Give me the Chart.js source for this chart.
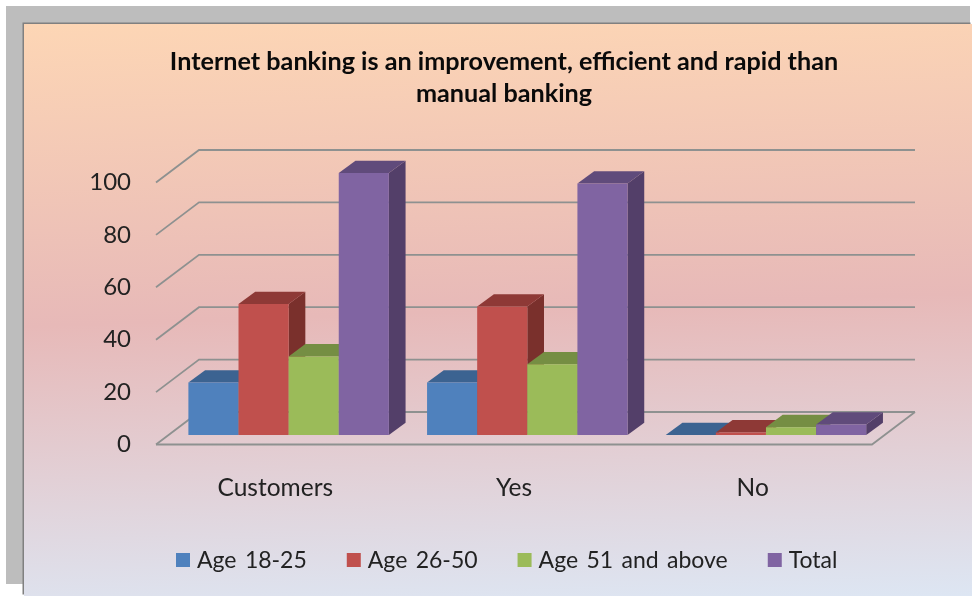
<!DOCTYPE html>
<html>
<head>
<meta charset="utf-8">
<title>Internet banking</title>
<script src="https://cdn.jsdelivr.net/npm/chart.js@4"></script>
<style>
    html, body { margin: 0; padding: 0; background: #fff; overflow: hidden; }
    #frame { position: absolute; left: 6px; top: 6px; width: 964px; height: 578px; background: #bdbdbd; }
    #panel {
        position: absolute; left: 24px; top: 24px; width: 948px; height: 572px;
        background: linear-gradient(178deg, #fdd6b5 0%, #e7b9b8 50%, #dde6f3 100%);
        box-shadow: -1.5px -1.5px 0 #808080;
    }
    #myChart { position: absolute; left: 36px; top: 0; }
</style>
</head>
<body>
<div id="frame"></div>
<div id="panel"></div>
<canvas id="myChart" width="936" height="596"></canvas>
<script>
const categories = ['Customers', 'Yes', 'No'];
const seriesNames = ['Age 18-25', 'Age 26-50', 'Age 51 and above', 'Total'];
const age18to25 = [20, 20, 0];
const age26to50 = [50, 49, 1];
const age51up = [30, 27, 3];
const total = [100, 96, 4];
const tickStep = 20;
const maxValue = 100;

const frontColors = ['#4f81bd', '#c0504d', '#9bbb59', '#8064a2'];
const topColors = ['#3c6391', '#8e3936', '#758e43', '#604b7b'];
const sideColors = ['#335580', '#7a302c', '#66793a', '#533f69'];

const FONT = 'Lato, sans-serif';
const TEXT = '#222222';

// floor depth, and where the bars stand on the floor
const floorDx = 43, floorDy = -32.5;
const barShiftX = 13.3, barShiftY = -9.5;
const barDx = 16.7, barDy = -12.3;

function face(ctx, color, x1, y1, x2, y2, dx, dy) {
    ctx.fillStyle = color;
    ctx.beginPath();
    ctx.moveTo(x1, y1);
    ctx.lineTo(x2, y2);
    ctx.lineTo(x2 + dx, y2 + dy);
    ctx.lineTo(x1 + dx, y1 + dy);
    ctx.closePath();
    ctx.fill();
}

function drawWalls(chart) {
    const ctx = chart.ctx;
    const area = chart.chartArea;
    const y = chart.scales.y;
    ctx.save();
    ctx.strokeStyle = '#8e9190';
    ctx.lineWidth = 1.8;
    for (let v = 0; v <= maxValue; v += tickStep) {
        const py = y.getPixelForValue(v);
        ctx.beginPath();
        ctx.moveTo(area.left, py);
        ctx.lineTo(area.left + floorDx, py + floorDy);
        ctx.lineTo(area.right + floorDx, py + floorDy);
        ctx.stroke();
    }
    const base = y.getPixelForValue(0);
    ctx.beginPath();
    ctx.moveTo(area.left, base);
    ctx.lineTo(area.right, base);
    ctx.lineTo(area.right + floorDx, base + floorDy);
    ctx.stroke();
    ctx.restore();
}

function drawBars(chart) {
    const ctx = chart.ctx;
    ctx.save();
    ctx.translate(barShiftX, barShiftY);
    chart.data.datasets.forEach(function(ds, i) {
        chart.getDatasetMeta(i).data.forEach(function(bar) {
            const left = bar.x - bar.width / 2;
            const right = bar.x + bar.width / 2;
            face(ctx, sideColors[i], right, bar.base, right, bar.y, barDx, barDy);
            face(ctx, topColors[i], left, bar.y, right, bar.y, barDx, barDy);
            bar.draw(ctx);
        });
    });
    ctx.restore();
}

function drawLegend(chart) {
    const ctx = chart.ctx;
    const box = 14, gap = 7, itemGap = 40, y = 560;
    ctx.save();
    ctx.font = '23px ' + FONT;
    ctx.wordSpacing = '2.5px';
    ctx.textBaseline = 'middle';
    ctx.textAlign = 'left';
    let x = 140;
    seriesNames.forEach(function(name, i) {
        ctx.fillStyle = frontColors[i];
        ctx.fillRect(x, y - box / 2, box, box);
        ctx.fillStyle = TEXT;
        ctx.fillText(name, x + box + gap, y + 1);
        x += box + gap + ctx.measureText(name).width + itemGap;
    });
    ctx.restore();
}

const depthPlugin = {
    id: 'depth',
    beforeDatasetsDraw(chart) {
        drawWalls(chart);
        drawBars(chart);
    },
    // the bars are painted above, left to right, so their faces overlap properly
    beforeDatasetDraw() {
        return false;
    },
    afterDraw(chart) {
        drawLegend(chart);
    }
};

const values = [age18to25, age26to50, age51up, total];

new Chart(document.getElementById('myChart').getContext('2d'), {
    type: 'bar',
    data: {
        labels: categories,
        datasets: seriesNames.map(function(name, i) {
            return {
                label: name,
                data: values[i],
                backgroundColor: frontColors[i],
                barPercentage: 1,
                categoryPercentage: 0.84
            };
        })
    },
    plugins: [depthPlugin],
    options: {
        responsive: false,
        animation: false,
        plugins: {
            legend: { display: false },
            tooltip: { enabled: false },
            title: {
                display: true,
                text: ['Internet banking is an improvement, efficient and rapid than', 'manual banking'],
                color: '#0a0a0a',
                font: { family: FONT, size: 25.2, weight: 'bold', lineHeight: 1.27 },
                padding: { top: 46, bottom: 72.5 }
            }
        },
        scales: {
            x: {
                afterFit: s => { s.height = 151.5; },
                grid: { display: false },
                border: { display: false },
                ticks: { color: TEXT, font: { family: FONT, size: 24.5 }, padding: 21, maxRotation: 0 }
            },
            y: {
                min: 0,
                max: maxValue,
                afterFit: s => { s.width = 120; },
                grid: { display: false },
                border: { display: false },
                ticks: { stepSize: tickStep, color: TEXT, font: { family: FONT, size: 24 }, padding: 17 }
            },
            // empty axis that only holds the room right of the floor
            spacer: {
                type: 'linear',
                position: 'right',
                afterFit: s => { s.width = 100; },
                grid: { display: false },
                border: { display: false },
                ticks: { display: false }
            }
        }
    }
});
</script>
</body>
</html>
